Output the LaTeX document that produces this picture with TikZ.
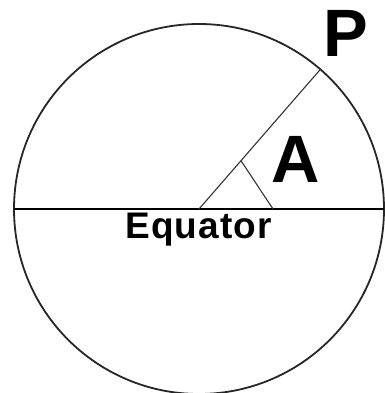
\documentclass[tikz,border=0pt]{standalone}
\usepackage{fontspec}
\setmainfont{Liberation Sans}
\usepackage{tikz}
\usetikzlibrary{calc}

\begin{document}
\begin{tikzpicture}[
  x=1pt, y=1pt,
  rim/.style={line width=1.8pt, black!85},
  eqline/.style={line width=1.5pt},
  thinline/.style={line width=1.1pt, black!80},
  bigletter/.style={anchor=base, inner sep=0pt, font=\fontsize{67}{70}\selectfont\bfseries},
  eqlabel/.style={anchor=base, inner sep=0pt, font=\fontsize{37}{40}\selectfont\bfseries\addfontfeature{LetterSpace=3}}
]
\useasboundingbox (0,0) rectangle (384,393);
% earth
\coordinate (O) at (199,184);
\draw[rim] (O) circle (185);
\coordinate (W) at ($(O)+(180:185)$);
\coordinate (E) at (384,184);
\draw[eqline] (W) -- (E);
% latitude
\coordinate (P) at ($(O)+(49:186)$);
\coordinate (foot) at ($(O)+(49:64)$);
\coordinate (mark) at (273,184);
\draw[thinline] (O) -- (P);
\draw[thinline] (foot) -- (mark);
% labels
\node[eqlabel] (eq) at (198.5,154) {Equator};
\node[bigletter] (lblA) at (296,210) {A};
\node[bigletter] (lblP) at (346,336) {P};
\end{tikzpicture}
\end{document}
